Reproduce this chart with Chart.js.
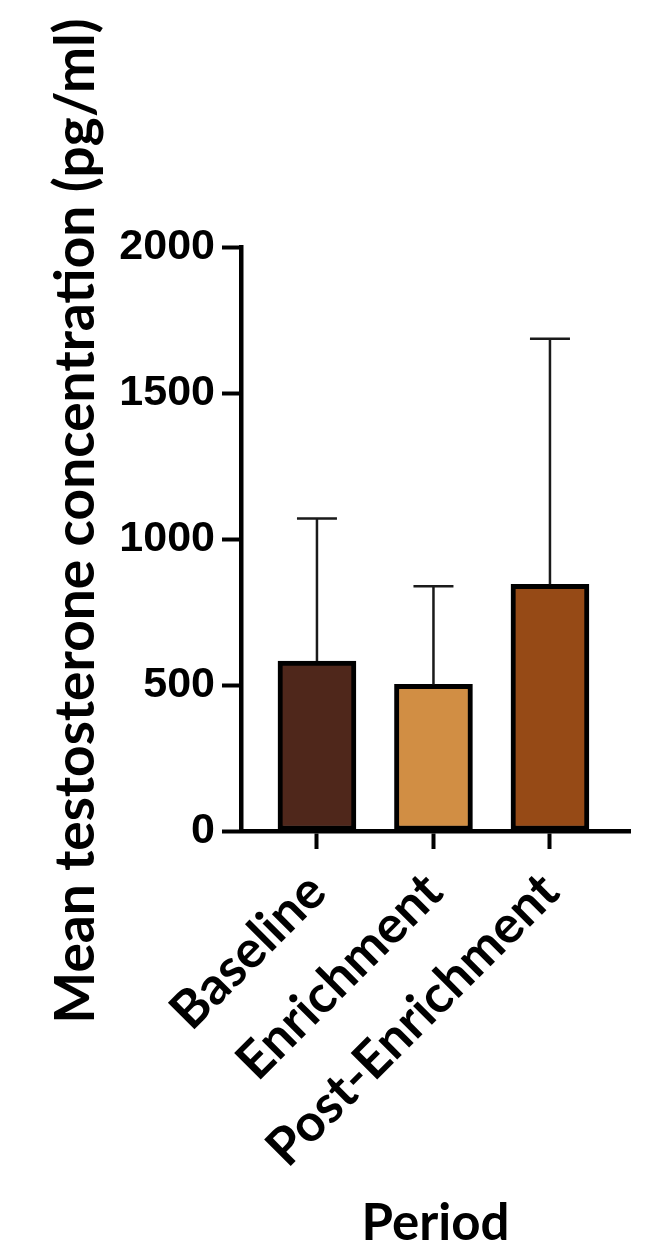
<!doctype html>
<html>
<head>
<meta charset="UTF-8">
<title>Mean testosterone concentration</title>
<script src="https://cdn.jsdelivr.net/npm/chart.js@4.4.1/dist/chart.umd.min.js"></script>
<style>
  html, body { margin: 0; padding: 0; background: #fff; }
  canvas { display: block; }
</style>
</head>
<body>
<canvas id="chart" width="663" height="1254"></canvas>
<script>
const periods = ['Baseline', 'Enrichment', 'Post-Enrichment']
const meanValues = [582, 502, 845]
const sdValues = [488, 336, 841]
const barColors = ['#4f271b', '#d18e44', '#964a16']
const yTicks = [0, 500, 1000, 1500, 2000]
const yTitle = 'Mean testosterone concentration (pg/ml)'

const labelFont = 'Lato'

// upper error bars (mean + SD) on top of each bar
const errorBars = {
  id: 'errorBars',
  afterDatasetsDraw (chart) {
    const ctx = chart.ctx
    const yScale = chart.scales.y
    const meta = chart.getDatasetMeta(0)
    ctx.save()
    ctx.strokeStyle = '#1a1a1a'
    ctx.lineWidth = 2.5
    meta.data.forEach((bar, i) => {
      const top = yScale.getPixelForValue(meanValues[i] + sdValues[i])
      ctx.beginPath()
      ctx.moveTo(bar.x, bar.y)
      ctx.lineTo(bar.x, top)
      ctx.moveTo(bar.x - 20, top)
      ctx.lineTo(bar.x + 20, top)
      ctx.stroke()
    })
    ctx.restore()
  }
}

// y title, drawn by hand so it can sit a bit above the axis centre like the original
const yAxisTitle = {
  id: 'yAxisTitle',
  afterDraw (chart) {
    const ctx = chart.ctx
    const area = chart.chartArea
    ctx.save()
    ctx.translate(76, (area.top + area.bottom) / 2 - 18)
    ctx.rotate(-Math.PI / 2)
    ctx.font = 'bold 55px ' + labelFont
    ctx.fillStyle = '#000'
    ctx.textAlign = 'center'
    ctx.textBaseline = 'middle'
    ctx.fillText(yTitle, 0, 0)
    ctx.restore()
  }
}

function main () {
  const config = {
    type: 'bar',
    data: {
      datasets: [{
        data: meanValues.map((v, i) => ({ x: i, y: v })),
        backgroundColor: barColors,
        borderColor: '#000',
        borderWidth: 5,
        borderSkipped: false,
        barThickness: 78
      }]
    },
    options: {
      responsive: false,
      animation: false,
      layout: { padding: { top: 247, right: 33, left: 0, bottom: 0 } },
      plugins: {
        legend: { display: false },
        tooltip: { enabled: false }
      },
      scales: {
        x: {
          type: 'linear',
          min: -0.652,
          max: 2.687,
          offset: false,
          afterBuildTicks: s => { s.ticks = periods.map((_, i) => ({ value: i })) },
          afterFit: s => { s.height = 423 },
          ticks: {
            callback: v => periods[v],
            minRotation: 45,
            maxRotation: 45,
            autoSkip: false,
            padding: 12,
            color: '#000',
            font: { family: labelFont, weight: 'bold', size: 52 }
          },
          grid: { offset: false, drawOnChartArea: false, drawTicks: true, tickLength: 18, tickWidth: 4, tickColor: '#000' },
          border: { color: '#000', width: 4.5 },
          title: {
            display: true,
            text: 'Period',
            color: '#000',
            padding: { top: 0, bottom: 0 },
            font: { family: labelFont, weight: 'bold', size: 51 }
          }
        },
        y: {
          min: 0,
          max: 2000,
          afterBuildTicks: s => { s.ticks = yTicks.map(v => ({ value: v })) },
          afterFit: s => { s.width = 241 },
          ticks: {
            callback: v => String(v),
            padding: 7,
            color: '#000',
            font: { family: 'Liberation Sans', weight: 'bold', size: 43 }
          },
          grid: { drawOnChartArea: false, drawTicks: true, tickLength: 19, tickWidth: 4, tickColor: '#000' },
          border: { color: '#000', width: 4.5 }
        }
      }
    },
    plugins: [errorBars, yAxisTitle]
  }

  new Chart(document.getElementById('chart'), config)
}

Promise.all([
  document.fonts.load('bold 55px Lato'),
  document.fonts.load('bold 43px "Liberation Sans"')
]).then(main, main)
</script>
</body>
</html>
